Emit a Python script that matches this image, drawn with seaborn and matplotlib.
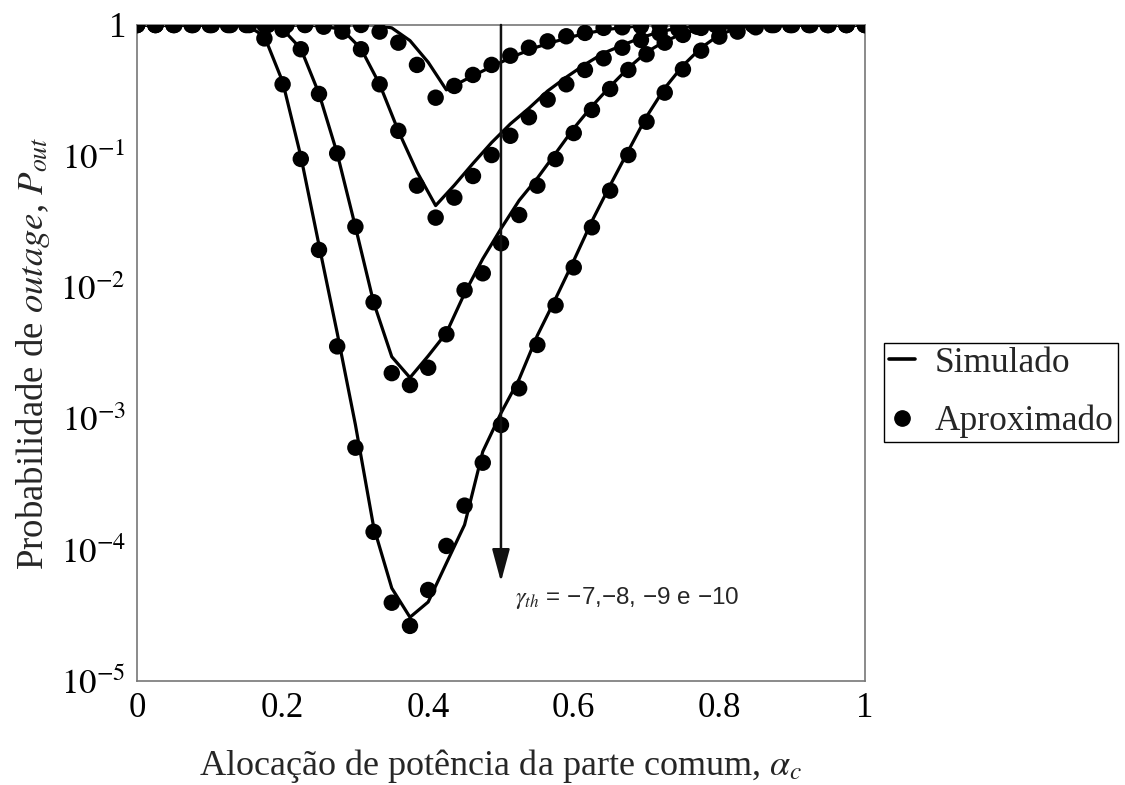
import matplotlib
matplotlib.use("Agg")
import matplotlib.pyplot as plt
from matplotlib.lines import Line2D
from matplotlib.ticker import NullLocator
import pandas as pd
import numpy as np
import seaborn as sns

sns.set_theme(style="white")
plt.rcParams['font.family'] = ['Liberation Serif', 'DejaVu Serif']
plt.rcParams['mathtext.fontset'] = 'stix'
plt.rcParams['axes.unicode_minus'] = True

# grades de alocação alpha_c (duas amostragens diferentes nas curvas)
x_40 = np.linspace(0, 1, 41)
x_39 = np.linspace(0, 1, 40)

# gamma_th = -7 (curva de cima)
sim_7 = [1, 1, 1, 1, 1, 1, 1, 1, 1, 1, 1, 1, 1, 1,
         0.95, 0.76, 0.52, 0.32, 0.38, 0.446, 0.52, 0.60, 0.68, 0.75, 0.82, 0.88, 0.93, 0.965,
         1, 1, 1, 1, 1, 1, 1, 1, 1, 1, 1, 1, 1]
apx_7 = [1, 1, 1, 1, 1, 1, 1, 1, 1, 1, 1, 1, 1,
         0.89, 0.733, 0.496, 0.279, 0.343, 0.416, 0.496, 0.583, 0.671, 0.75, 0.82, 0.87,
         0.95, 0.96, 0.98, 0.99,
         1, 1, 1, 1, 1, 1, 1, 1, 1, 1, 1]

# gamma_th = -8
sim_8 = [1, 1, 1, 1, 1, 1, 1, 1, 1, 1,
         0.98, 0.92, 0.66, 0.353, 0.156, 0.076, 0.042, 0.060, 0.088, 0.127, 0.176,
         0.232, 0.314, 0.40, 0.50, 0.61, 0.70, 0.80, 0.885, 0.95, 0.98,
         1, 1, 1, 1, 1, 1, 1, 1, 1]
apx_8 = [1, 1, 1, 1, 1, 1, 1, 1, 1, 1,
         0.97, 0.89, 0.653, 0.353, 0.156, 0.0596, 0.034, 0.0483, 0.0706, 0.102, 0.143,
         0.198, 0.27, 0.353, 0.454, 0.557, 0.671, 0.768, 0.865, 0.93, 0.97,
         1, 1, 1, 1, 1, 1, 1, 1, 1]

# gamma_th = -9
sim_9 = [1, 1, 1, 1, 1, 1, 1, 1,
         0.93, 0.66, 0.30, 0.105, 0.029, 7.7e-3, 2.96e-3, 2.05e-3, 3.0e-3, 4.5e-3, 9.0e-3,
         0.0165, 0.028, 0.046, 0.068, 0.105, 0.163, 0.24, 0.34, 0.47, 0.62, 0.75, 0.86,
         0.94, 0.98,
         1, 1, 1, 1, 1, 1, 1, 1]
apx_9 = [1, 1, 1, 1, 1, 1, 1, 1,
         0.92, 0.653, 0.298, 0.105, 0.029, 7.7e-3, 2.22e-3, 1.80e-3, 2.44e-3, 4.39e-3, 9.5e-3,
         0.0128, 0.0217, 0.0356, 0.0596, 0.095, 0.15, 0.225, 0.325, 0.454, 0.598, 0.733, 0.84,
         0.95, 0.98,
         1, 1, 1, 1, 1, 1, 1, 1]

# gamma_th = -10 (curva de baixo)
sim_10 = [1, 1, 1, 1, 1, 1, 1,
          0.82, 0.37, 0.10, 0.021, 4.5e-3, 9.0e-4, 1.5e-4, 5.1e-5, 3.06e-5, 4.0e-5, 7.9e-5,
          1.55e-4, 5.6e-4, 1.1e-3, 2.0e-3, 4.3e-3, 8.2e-3, 0.016, 0.032, 0.060, 0.11, 0.20,
          0.33, 0.49, 0.67, 0.84, 0.95,
          1, 1, 1, 1, 1, 1, 1]
apx_10 = [1, 1, 1, 1, 1, 1, 1,
          0.79, 0.353, 0.0952, 0.0193, 3.55e-3, 6.0e-4, 1.37e-4, 3.95e-5, 2.63e-5, 4.94e-5,
          1.07e-4, 2.17e-4, 4.61e-4, 8.94e-4, 1.70e-3, 3.64e-3, 7.3e-3, 0.0142, 0.0287,
          0.0546, 0.102, 0.183, 0.305, 0.459, 0.637, 0.815, 0.89, 0.96,
          1, 1, 1, 1, 1, 1]

xticks = [0, 0.2, 0.4, 0.6, 0.8, 1]
xtick_labels = ['0', '0.2', '0.4', '0.6', '0.8', '1']
yticks = [1e-5, 1e-4, 1e-3, 1e-2, 1e-1, 1]
ytick_labels = ['$10^{-5}$', '$10^{-4}$', '$10^{-3}$', '$10^{-2}$', '$10^{-1}$', '1']

sim = pd.concat([
    pd.DataFrame({'x': x_40, 'p': sim_7, 'g': -7}),
    pd.DataFrame({'x': x_39, 'p': sim_8, 'g': -8}),
    pd.DataFrame({'x': x_40, 'p': sim_9, 'g': -9}),
    pd.DataFrame({'x': x_40, 'p': sim_10, 'g': -10}),
])
apx = pd.concat([
    pd.DataFrame({'x': x_39, 'p': apx_7, 'g': -7}),
    pd.DataFrame({'x': x_39, 'p': apx_8, 'g': -8}),
    pd.DataFrame({'x': x_40, 'p': apx_9, 'g': -9}),
    pd.DataFrame({'x': x_40, 'p': apx_10, 'g': -10}),
])

fig = plt.figure(figsize=(11.25, 7.85), dpi=100)
ax = fig.add_axes([0.1218, 0.1325, 0.647, 0.8357])
ax.set_yscale('log')

sns.lineplot(data=sim, x='x', y='p', units='g', estimator=None, color='black',
             lw=2.3, ax=ax, legend=False)
sns.scatterplot(data=apx, x='x', y='p', color='black', s=140, edgecolor='none',
                ax=ax, legend=False, zorder=3)

ax.set_xlim(0, 1)
ax.set_ylim(1e-5, 1)
ax.set_xticks(xticks, xtick_labels)
ax.set_yticks(yticks, ytick_labels)
ax.yaxis.set_minor_locator(NullLocator())
ax.tick_params(direction='in', length=5, width=1, color='#777777', labelsize=25,
               labelcolor='black', pad=8)
for s in ax.spines.values():
    s.set_color('#777777')
    s.set_linewidth(1.2)

ax.set_xlabel(r'Alocação de potência da parte comum, $\alpha_c$', fontsize=26, labelpad=16)
ax.set_ylabel(r'Probabilidade de $\mathit{outage}$, $P_{out}$', fontsize=26.5, labelpad=6)

# seta indicando o sentido de gamma_th
ax.annotate('', xy=(0.5, 5.7e-5), xytext=(0.5, 1),
            arrowprops=dict(arrowstyle='-|>,head_length=1.0,head_width=0.27',
                            color='#111111', lw=1.8, mutation_scale=20, shrinkA=0, shrinkB=0))
ax.text(0.519, 4.3e-5, '$\\gamma_{th}$ = \u22127,\u22128, \u22129 e \u221210', fontsize=17.5,
        family=['Liberation Sans', 'DejaVu Sans'], ha='left', va='center')

handles = [Line2D([0], [0], color='black', lw=2.6, label='Simulado'),
           Line2D([0], [0], marker='o', ls='none', color='black', markersize=11,
                  label='Aproximado')]
leg = fig.legend(handles=handles, loc='center left', bbox_to_anchor=(0.786, 0.5),
                 fontsize=25.5, frameon=True, fancybox=False, edgecolor='black',
                 framealpha=1, handlelength=0.75, handletextpad=0.55, borderpad=0.12,
                 labelspacing=0.7, borderaxespad=0)
leg.get_frame().set_linewidth(1.0)

fig.savefig('out.png', dpi=100)
